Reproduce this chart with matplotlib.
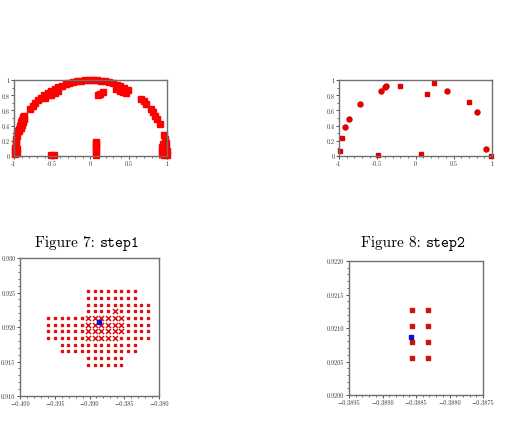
import matplotlib
matplotlib.use("Agg")
import matplotlib.pyplot as plt
from matplotlib.ticker import MultipleLocator

plt.rcParams['font.family'] = ['cmr10', 'DejaVu Serif']
plt.rcParams['axes.unicode_minus'] = False

# --- step1 overview: points on the upper half circle ---
tl_x = [-0.99, -0.99, -0.99, -0.98, -0.975, -0.97, -0.965, -0.965, -0.965,
        -0.955, -0.945, -0.935, -0.925, -0.915, -0.905, -0.895, -0.88, -0.87,
        -0.93, -0.915, -0.90, -0.885, -0.875,
        -0.788, -0.755, -0.719, -0.682, -0.643, -0.602, -0.559, -0.515, -0.469,
        -0.423, -0.375, -0.326, -0.276, -0.225, -0.174, -0.122, -0.070, -0.017,
        0.035, 0.087, 0.139, 0.191, 0.242, 0.292, 0.342, 0.391, 0.438, 0.485,
        -0.52, -0.47, -0.42, -0.60, -0.56,
        0.33, 0.38, 0.42, 0.46,
        0.10, 0.13, 0.16,
        0.07, 0.07, 0.07, 0.07, 0.07, 0.07,
        -0.52, -0.48,
        0.656, 0.695, 0.731, 0.788, 0.819, 0.848, 0.875, 0.906,
        0.961, 0.974, 0.985, 0.993, 0.998, 1.0,
        0.93, 0.93, 0.93, 0.96, 0.96, 0.96, 0.95]
tl_y = [0.02, 0.06, 0.10, 0.14, 0.18, 0.22, 0.26, 0.04, 0.09,
        0.30, 0.33, 0.36, 0.39, 0.42, 0.45, 0.48, 0.51, 0.53,
        0.33, 0.37, 0.41, 0.45, 0.49,
        0.616, 0.656, 0.695, 0.731, 0.766, 0.799, 0.829, 0.857, 0.883,
        0.906, 0.927, 0.946, 0.961, 0.974, 0.985, 0.993, 0.998, 1.0,
        0.999, 0.996, 0.990, 0.982, 0.970, 0.956, 0.940, 0.921, 0.899, 0.875,
        0.80, 0.83, 0.85, 0.76, 0.80,
        0.88, 0.86, 0.84, 0.83,
        0.80, 0.82, 0.84,
        0.01, 0.05, 0.09, 0.13, 0.17, 0.19,
        0.01, 0.01,
        0.755, 0.719, 0.682, 0.616, 0.574, 0.530, 0.485, 0.423,
        0.276, 0.225, 0.174, 0.122, 0.070, 0.017,
        0.12, 0.07, 0.03, 0.10, 0.05, 0.01, 0.16]

# --- step2 overview ---
tr_small_x = [-0.99, -0.965, -0.49, -0.20, 0.072, 0.155, 0.238, 0.698, 0.99]
tr_small_y = [0.06, 0.24, 0.01, 0.925, 0.02, 0.815, 0.956, 0.71, 0.005]
tr_big_x = [-0.917, -0.869, -0.72, -0.449, -0.405, -0.38, 0.418, 0.807, 0.926]
tr_big_y = [0.38, 0.49, 0.68, 0.855, 0.91, 0.92, 0.86, 0.58, 0.096]

# --- step1 zoom: grid of candidate points ---
bl_cols = [-0.39593, -0.39498, -0.39402, -0.39306, -0.39211, -0.39115,
           -0.39019, -0.38923, -0.38828, -0.38732, -0.38636, -0.38541,
           -0.38445, -0.38349, -0.38254, -0.38158]
bl_rows = [0.92519, 0.92422, 0.92325, 0.92228, 0.92131, 0.92034,
           0.91937, 0.91840, 0.91743, 0.91646, 0.91549, 0.91451]
# '.' dot, 'x' cross, ' ' nothing (one string per row, one char per column)
bl_mask = ["      ........  ",
           "      ........  ",
           "      ..........",
           "      ....x.....",
           "......xxxxxx....",
           "......xxxxxx....",
           "......xxxxxx....",
           "......xxxxx.....",
           "  ............  ",
           "  ............  ",
           "      ......    ",
           "      ......    "]
bl_blue = (-0.38866, 0.92078)

# --- step2 zoom ---
br_x = [-0.38856, -0.38832, -0.38856, -0.38832,
        -0.38856, -0.38832, -0.38856, -0.38832]
br_y = [0.92127, 0.92127, 0.92103, 0.92103,
        0.92079, 0.92079, 0.92055, 0.92055]
br_blue = (-0.38857, 0.92087)

top_xticks = [-1, -0.5, 0, 0.5, 1]
top_xlabels = ['-1', '-0.5', '0', '0.5', '1']
top_yticks = [0, 0.2, 0.4, 0.6, 0.8, 1]
top_ylabels = ['0', '0.2', '0.4', '0.6', '0.8', '1']
bl_xticks = [-0.400, -0.395, -0.390, -0.385, -0.380]
bl_xlabels = ['\u22120.400', '\u22120.395', '\u22120.390', '\u22120.385', '\u22120.380']
bl_yticks = [0.910, 0.915, 0.920, 0.925, 0.930]
bl_ylabels = ['0.910', '0.915', '0.920', '0.925', '0.930']
br_xticks = [-0.3895, -0.3890, -0.3885, -0.3880, -0.3875]
br_xlabels = ['\u22120.3895', '\u22120.3890', '\u22120.3885', '\u22120.3880', '\u22120.3875']
br_yticks = [0.9200, 0.9205, 0.9210, 0.9215, 0.9220]
br_ylabels = ['0.9200', '0.9205', '0.9210', '0.9215', '0.9220']

W, H = 507, 435
fig = plt.figure(figsize=(W / 100, H / 100), dpi=100)


def px_axes(x0, y0, x1, y1):
    return fig.add_axes([x0 / W, 1 - y1 / H, (x1 - x0) / W, (y1 - y0) / H])


def style(ax, xt, xl, yt, yl, xminor, yminor):
    for s in ax.spines.values():
        s.set_color('#707070')
        s.set_linewidth(1.0)
    ax.set_xticks(xt)
    ax.set_xticklabels(xl)
    ax.set_yticks(yt)
    ax.set_yticklabels(yl)
    ax.xaxis.set_minor_locator(MultipleLocator(xminor))
    ax.yaxis.set_minor_locator(MultipleLocator(yminor))
    ax.tick_params(which='major', direction='out', length=2.2, width=0.6,
                   labelsize=4.5, pad=1, colors='#333333')
    ax.tick_params(which='minor', direction='out', length=1.2, width=0.5,
                   colors='#333333')


# Figure 7 top: step1 overview
ax1 = px_axes(14, 81, 167, 157)
ax1.plot(tl_x, tl_y, 's', ms=4.0, color='red', mec='red', clip_on=False)
ax1.set_xlim(-1, 1)
ax1.set_ylim(0, 1)
style(ax1, top_xticks, top_xlabels, top_yticks, top_ylabels, 0.1, 0.1)

# Figure 8 top: step2 overview
ax2 = px_axes(339, 81, 492, 157)
ax2.plot(tr_small_x, tr_small_y, 's', ms=2.6, color='#e00000', mec='#e00000', clip_on=False)
ax2.plot(tr_big_x, tr_big_y, 'o', ms=3.6, color='#e00000', mec='#e00000', clip_on=False)
ax2.set_xlim(-1, 1)
ax2.set_ylim(0, 1)
style(ax2, top_xticks, top_xlabels, top_yticks, top_ylabels, 0.1, 0.1)

# Figure 7 bottom: step1 zoom
ax3 = px_axes(20, 259, 159, 397)
dot_x, dot_y, crs_x, crs_y = [], [], [], []
for r, row in enumerate(bl_mask):
    for c, ch in enumerate(row):
        if ch == '.':
            dot_x.append(bl_cols[c])
            dot_y.append(bl_rows[r])
        elif ch == 'x':
            crs_x.append(bl_cols[c])
            crs_y.append(bl_rows[r])
ax3.plot(dot_x, dot_y, 's', ms=1.8, color='#dd1111', mec='#dd1111')
ax3.plot(crs_x, crs_y, 'x', ms=3.6, mew=1.1, color='#dd1111')
ax3.plot(*bl_blue, 's', ms=2.4, color='#1010cc', mec='#1010cc')
ax3.set_xlim(-0.400, -0.380)
ax3.set_ylim(0.910, 0.930)
style(ax3, bl_xticks, bl_xlabels, bl_yticks, bl_ylabels, 0.001, 0.001)

# Figure 8 bottom: step2 zoom
ax4 = px_axes(349, 262, 483, 396)
ax4.plot(br_x, br_y, 's', ms=2.4, color='#d01010', mec='#d01010')
ax4.plot(*br_blue, 's', ms=2.4, color='#1010cc', mec='#1010cc')
ax4.set_xlim(-0.3895, -0.3875)
ax4.set_ylim(0.9200, 0.9220)
style(ax4, br_xticks, br_xlabels, br_yticks, br_ylabels, 0.0001, 0.0001)

# captions
cap_y = 1 - 247 / H
fig.text(100 / W, cap_y, 'Figure 7: ', ha='right', va='baseline',
         fontsize=11, family=['cmr10', 'DejaVu Serif'])
fig.text(100 / W, cap_y, 'step1', ha='left', va='baseline',
         fontsize=11, family=['cmtt10', 'DejaVu Sans Mono'])
fig.text(426 / W, cap_y, 'Figure 8: ', ha='right', va='baseline',
         fontsize=11, family=['cmr10', 'DejaVu Serif'])
fig.text(426 / W, cap_y, 'step2', ha='left', va='baseline',
         fontsize=11, family=['cmtt10', 'DejaVu Sans Mono'])

fig.savefig('out.png', dpi=100)
